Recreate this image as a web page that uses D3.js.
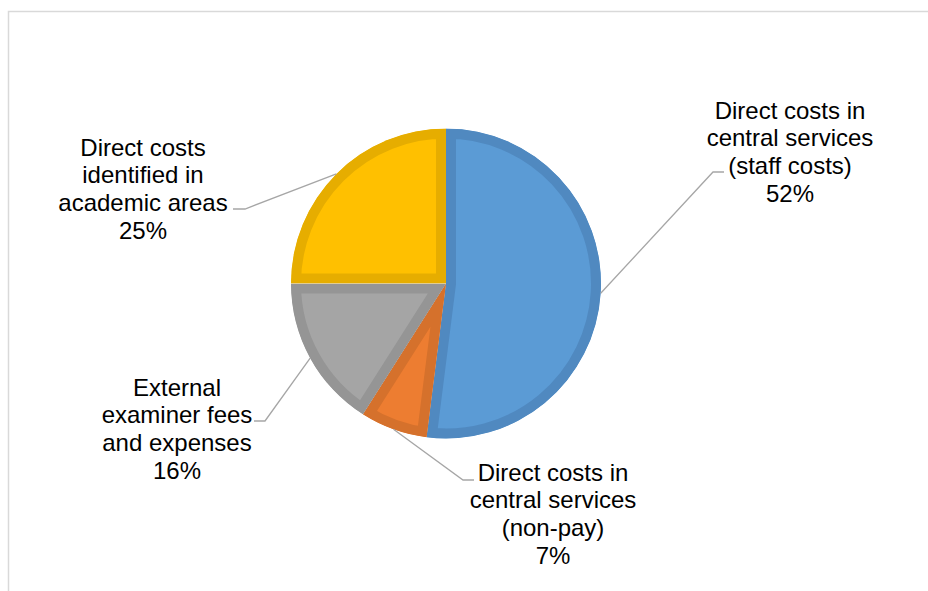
<!DOCTYPE html>
<html>
<head>
<meta charset="utf-8">
<script src="https://cdn.jsdelivr.net/npm/d3@7"></script>
<style>
  html, body { margin: 0; padding: 0; background: #fff; }
  svg { display: block; }
</style>
</head>
<body>
<svg id="chart" width="928" height="591"></svg>
<script>
// Cost breakdown shares (percent), clockwise from 12 o'clock
const categories = [
  "Direct costs in central services (staff costs)",
  "Direct costs in central services (non-pay)",
  "External examiner fees and expenses",
  "Direct costs identified in academic areas"
];
const categoryLines = [
  ["Direct costs in", "central services", "(staff costs)"],
  ["Direct costs in", "central services", "(non-pay)"],
  ["External", "examiner fees", "and expenses"],
  ["Direct costs", "identified in", "academic areas"]
];
const values = [52, 7, 16, 25];

const fills   = ["#5B9BD5", "#ED7D31", "#A5A5A5", "#FFC000"];
const borders = ["#5089C0", "#D5712C", "#959595", "#E6AD00"];

// Label block placement: centre x, centre y of first line, leader elbow and end
const labelLayout = [
  { x: 790, y: 110, elbow: [713, 172], end: [724, 172] },
  { x: 553, y: 472, elbow: [463, 480], end: [474, 480] },
  { x: 177, y: 387, elbow: [265, 421], end: [254, 421] },
  { x: 143, y: 147, elbow: [245, 209], end: [233, 209] }
];

const W = 928, H = 591;
const cx = 446, cy = 283.5, R = 155;
const lineH = 27.8;

const svg = d3.select("#chart");

// chart area frame
svg.append("rect")
  .attr("x", 8.5).attr("y", 11.5)
  .attr("width", W + 20).attr("height", H + 20)
  .attr("fill", "#fff")
  .attr("stroke", "#D9D9D9")
  .attr("stroke-width", 1.5);

const data = categories.map((c, i) => ({ name: c, lines: categoryLines[i], value: values[i], i }));

const pie = d3.pie().sort(null).value(d => d.value).startAngle(0).endAngle(2 * Math.PI);
const arcs = pie(data);
const arc = d3.arc().innerRadius(0).outerRadius(R);
const outer = d3.arc().innerRadius(R).outerRadius(R);

const g = svg.append("g").attr("transform", `translate(${cx},${cy})`);
const defs = svg.append("defs");

arcs.forEach((a, i) => {
  defs.append("clipPath").attr("id", "clip" + i)
    .append("path").attr("d", arc(a));
});

// slices with an inner border (double-width stroke clipped to the slice)
g.selectAll("path.slice")
  .data(arcs)
  .join("path")
  .attr("class", "slice")
  .attr("d", arc)
  .attr("fill", (d, i) => fills[i])
  .attr("stroke", (d, i) => borders[i])
  .attr("stroke-width", 20)
  .attr("stroke-linejoin", "miter")
  .attr("clip-path", (d, i) => `url(#clip${i})`);

// leader lines from the slice edge to the label
arcs.forEach((a, i) => {
  const c = outer.centroid(a);
  const L = labelLayout[i];
  svg.append("polyline")
    .attr("points", [[cx + c[0], cy + c[1]], L.elbow, L.end].map(p => p.join(",")).join(" "))
    .attr("fill", "none")
    .attr("stroke", "#A6A6A6")
    .attr("stroke-width", 1.3);
});

// labels
arcs.forEach((a, i) => {
  const L = labelLayout[i];
  const lines = a.data.lines.concat([a.data.value + "%"]);
  const t = svg.append("text")
    .attr("text-anchor", "middle")
    .attr("font-family", "'Liberation Sans', Arial, sans-serif")
    .attr("font-size", 24)
    .attr("fill", "#000");
  lines.forEach((s, k) => {
    t.append("tspan")
      .attr("x", L.x)
      .attr("y", L.y + k * lineH)
      .attr("dominant-baseline", "central")
      .text(s);
  });
});
</script>
</body>
</html>
